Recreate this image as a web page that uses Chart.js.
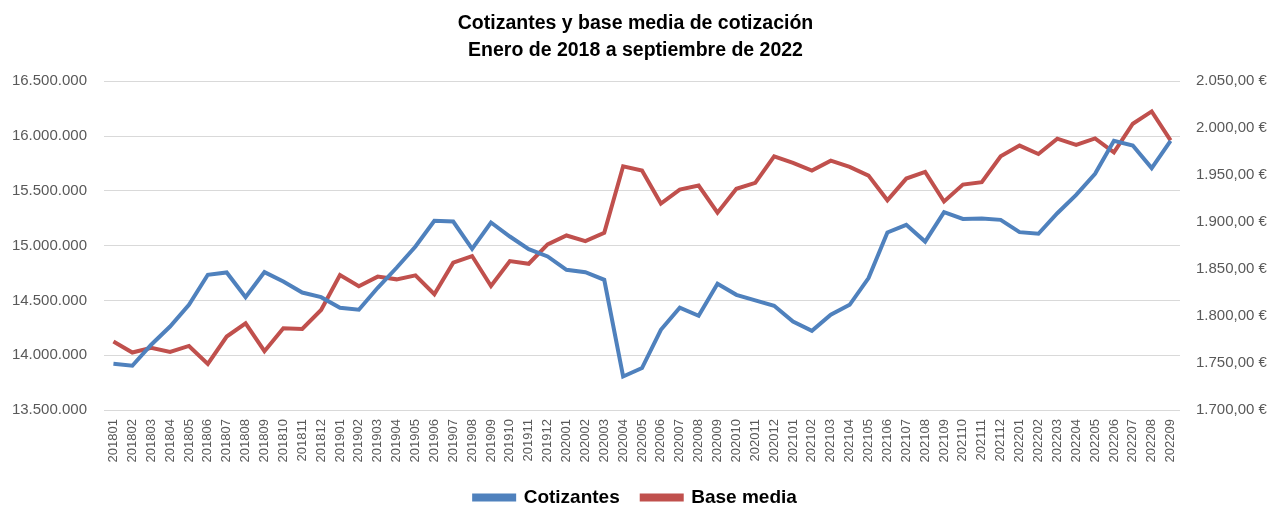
<!DOCTYPE html>
<html>
<head>
<meta charset="utf-8">
<script src="https://cdn.jsdelivr.net/npm/chart.js"></script>
<style>
  html, body { margin: 0; padding: 0; background: #fff; }
  #wrap { width: 1271px; height: 507px; }
</style>
</head>
<body>
<div id="wrap"><canvas id="grafica" width="1271" height="507"></canvas></div>
<script>
// DATOS
const meses = [
  '201801','201802','201803','201804','201805','201806','201807','201808','201809','201810','201811','201812',
  '201901','201902','201903','201904','201905','201906','201907','201908','201909','201910','201911','201912',
  '202001','202002','202003','202004','202005','202006','202007','202008','202009','202010','202011','202012',
  '202101','202102','202103','202104','202105','202106','202107','202108','202109','202110','202111','202112',
  '202201','202202','202203','202204','202205','202206','202207','202208','202209'
];

const cotizantes = [
  13922000, 13904000, 14096000, 14262000, 14460000, 14734000, 14755000, 14530000, 14758000, 14673000, 14572000, 14530000,
  14433000, 14415000, 14615000, 14798000, 14992000, 15226000, 15220000, 14971000, 15211000, 15083000, 14968000, 14901000,
  14779000, 14758000, 14688000, 13806000, 13883000, 14232000, 14433000, 14360000, 14652000, 14551000, 14500000, 14451000,
  14308000, 14223000, 14369000, 14460000, 14704000, 15120000, 15190000, 15037000, 15306000, 15244000, 15247000, 15235000,
  15123000, 15108000, 15296000, 15463000, 15655000, 15956000, 15913000, 15707000, 15956000
];

const baseMedia = [
  1772.9, 1761.2, 1766.1, 1761.9, 1768.2, 1749.1, 1778.2, 1792.3, 1762.6, 1787.0, 1786.3, 1806.5,
  1843.7, 1831.7, 1842.0, 1839.1, 1843.3, 1823.2, 1856.8, 1863.9, 1832.0, 1858.6, 1855.7, 1876.3,
  1885.8, 1879.8, 1888.7, 1959.5, 1954.9, 1919.8, 1934.7, 1939.0, 1910.0, 1935.5, 1941.8, 1970.1,
  1963.1, 1954.9, 1965.5, 1958.8, 1949.6, 1923.3, 1946.4, 1953.5, 1922.0, 1940.0, 1942.5, 1970.1,
  1981.5, 1972.6, 1988.9, 1982.2, 1989.2, 1974.3, 2004.8, 2017.9, 1987.1
];

const titulo = ['Cotizantes y base media de cotización', 'Enero de 2018 a septiembre de 2022'];

// FORMATOS
function miles(n) {
  return String(Math.round(n)).replace(/\B(?=(\d{3})+(?!\d))/g, '.');
}
function euros(n) {
  const partes = n.toFixed(2).split('.');
  return miles(Number(partes[0])) + ',' + partes[1] + ' €';
}

const gris = '#595959';
const fuente = 'Liberation Sans';

const ctx = document.getElementById('grafica').getContext('2d');
new Chart(ctx, {
  type: 'line',
  data: {
    labels: meses,
    datasets: [
      {
        label: 'Cotizantes',
        data: cotizantes,
        borderColor: '#4F81BD',
        backgroundColor: '#4F81BD',
        borderWidth: 4,
        pointRadius: 0,
        tension: 0,
        yAxisID: 'y'
      },
      {
        label: 'Base media',
        data: baseMedia,
        borderColor: '#C0504D',
        backgroundColor: '#C0504D',
        borderWidth: 4,
        pointRadius: 0,
        tension: 0,
        yAxisID: 'y2'
      }
    ]
  },
  options: {
    responsive: false,
    animation: false,
    // la leyenda deja 10px libres debajo; se compensan con padding negativo
    layout: { padding: { left: 0, right: 0, top: 0, bottom: -10 } },
    plugins: {
      title: {
        display: true,
        text: titulo,
        color: '#000',
        font: { family: fuente, size: 19.5, weight: 'bold', lineHeight: 1.34 },
        padding: { top: 11, bottom: 18 }
      },
      legend: {
        position: 'bottom',
        labels: {
          boxWidth: 40,
          boxHeight: 4,
          color: '#000',
          padding: 22,
          font: { family: fuente, size: 19, weight: 'bold' }
        }
      },
      tooltip: { enabled: false }
    },
    scales: {
      x: {
        offset: true,
        grid: { display: false, drawTicks: false },
        border: { display: false },
        ticks: {
          autoSkip: false,
          maxRotation: 90,
          minRotation: 90,
          padding: 9,
          color: gris,
          font: { family: fuente, size: 13 }
        },
        afterFit: (scale) => { scale.height = 56; }
      },
      y: {
        position: 'left',
        min: 13500000,
        max: 16500000,
        grid: { color: '#D9D9D9', lineWidth: 1, drawTicks: false },
        border: { display: false },
        ticks: {
          stepSize: 500000,
          padding: 17,
          color: gris,
          font: { family: fuente, size: 15 },
          callback: (v) => miles(v)
        },
        afterFit: (scale) => { scale.width = 104; }
      },
      y2: {
        position: 'right',
        min: 1700,
        max: 2050,
        grid: { display: false, drawTicks: false },
        border: { display: false },
        ticks: {
          stepSize: 50,
          padding: 16,
          color: gris,
          font: { family: fuente, size: 15 },
          callback: (v) => euros(v)
        },
        afterFit: (scale) => { scale.width = 91; }
      }
    }
  }
});
</script>
</body>
</html>
